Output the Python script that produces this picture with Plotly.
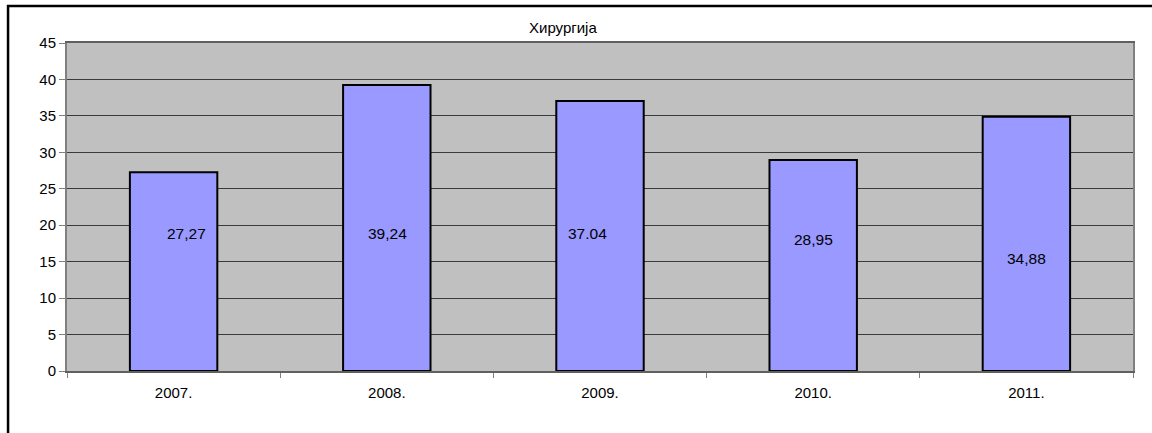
import plotly.graph_objects as go

years = ["2007.", "2008.", "2009.", "2010.", "2011."]
values = [27.27, 39.24, 37.04, 28.95, 34.88]
value_labels = ["27,27", "39,24", "37.04", "28,95", "34,88"]
label_y = [18.9, 18.9, 18.9, 18.1, 15.5]
label_xshift = [13, 1, -13, 0, 0]

FONT = "Liberation Sans, Arial"

fig = go.Figure()
fig.add_trace(go.Bar(
    x=years, y=values,
    marker=dict(color="#9999FF", line=dict(color="black", width=2)),
    width=0.41,
    hoverinfo="skip",
))

# value labels, placed by category index
for i, (lab, ly, dx) in enumerate(zip(value_labels, label_y, label_xshift)):
    fig.add_annotation(x=i, y=ly, text=lab, showarrow=False, xshift=dx,
                       font=dict(family=FONT, size=15.5, color="black"))

fig.add_annotation(xref="paper", yref="paper", x=0.4653, y=1.0, yshift=16,
                   text="Хирургија", showarrow=False, yanchor="middle",
                   font=dict(family=FONT, size=15, color="black"))

# outer frame
fig.add_shape(type="rect", xref="paper", yref="paper",
              x0=-0.0553, x1=1.2, y0=-0.6, y1=1.1128,
              line=dict(color="black", width=2.5), fillcolor="rgba(0,0,0,0)", layer="above")

fig.update_layout(
    width=1152, height=433,
    margin=dict(l=67, r=19, t=43, b=62),
    paper_bgcolor="white",
    plot_bgcolor="#C0C0C0",
    showlegend=False,
    font=dict(family=FONT, size=14, color="black"),
    xaxis=dict(
        type="category",
        range=[-0.5, 4.5],
        showline=True, linecolor="#606060", linewidth=2, mirror=True,
        ticks="outside", tickson="boundaries", ticklen=5, tickcolor="#808080",
        showgrid=False, tickangle=0,
        ticklabelstandoff=7,
        tickfont=dict(size=15),
    ),
    yaxis=dict(
        range=[0, 45], dtick=5,
        showline=True, linecolor="#808080", linewidth=2, mirror=True,
        ticks="outside", ticklen=6, tickcolor="#808080",
        showgrid=True, gridcolor="#3a3a3a", gridwidth=1,
        zeroline=False,
        tickfont=dict(size=15),
    ),
)

fig.write_html("out.html")
